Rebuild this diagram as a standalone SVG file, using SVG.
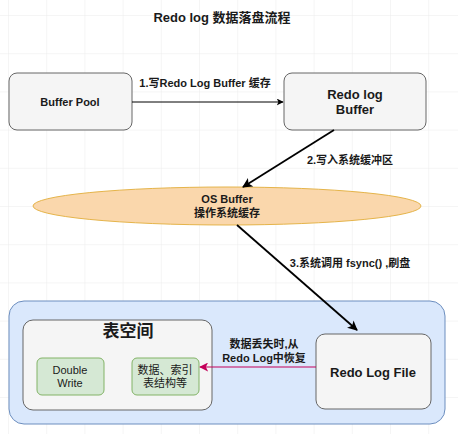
<svg xmlns="http://www.w3.org/2000/svg" width="458" height="434" viewBox="0 0 458 434">
<defs>
<pattern id="grid" x="8" y="15" width="38.2" height="38.2" patternUnits="userSpaceOnUse">
<path d="M0 0H38.2M0 0V38.2" fill="none" stroke="#ececec" stroke-width="1"/>
</pattern>
<marker id="ah" viewBox="0 0 10 10" refX="9" refY="5" markerWidth="7" markerHeight="7" markerUnits="userSpaceOnUse" orient="auto">
<path d="M0 0L10 5L0 10L2.5 5Z" fill="#000"/>
</marker>
<marker id="ahb" viewBox="0 0 10 10" refX="9" refY="5" markerWidth="5.5" markerHeight="5.5" orient="auto">
<path d="M0 0L10 5L0 10L2.5 5Z" fill="#000"/>
</marker>
<marker id="ahp" viewBox="0 0 10 10" refX="9" refY="5" markerWidth="9" markerHeight="9" markerUnits="userSpaceOnUse" orient="auto">
<path d="M0 0L10 5L0 10L2.5 5Z" fill="#c4005a"/>
</marker>
</defs>
<style>
text{font-family:"Liberation Sans","Noto Sans CJK SC",Arial,sans-serif;fill:#1a1a1a;text-anchor:middle}
.b{font-weight:bold}
.gray{fill:#f5f5f5;stroke:#666;stroke-width:1}
.green{fill:#d5e8d4;stroke:#82b366;stroke-width:1}
.lbl{font-size:11px;font-weight:bold}
</style>
<rect width="458" height="434" fill="#fff"/>
<rect width="458" height="434" fill="url(#grid)"/>
<text x="222" y="22" class="b" font-size="13">Redo log 数据落盘流程</text>

<g id="buffer-pool">
<rect x="9" y="73" width="123" height="57" rx="8" class="gray"/>
<text x="70" y="106" class="b" font-size="11">Buffer Pool</text>
</g>
<g id="redo-log-buffer">
<rect x="284" y="73" width="142" height="57" rx="8" class="gray"/>
<text x="355" y="99" class="b" font-size="13">Redo log</text>
<text x="355" y="114" class="b" font-size="13">Buffer</text>
</g>
<g id="os-buffer">
<ellipse cx="227" cy="206" rx="194" ry="19" fill="#fad7ac" stroke="#e5b44a" stroke-width="1"/>
<text x="227" y="203" class="b" font-size="11">OS Buffer</text>
<text x="227" y="217" class="b" font-size="11">操作系统缓存</text>
</g>
<g id="disk">
<rect x="9" y="301" width="436" height="123" rx="15" fill="#dae8fc" stroke="#6c8ebf" stroke-width="1"/>
</g>
<g id="tablespace">
<rect x="23" y="320" width="189" height="90" rx="10" class="gray"/>
<text x="128" y="337" class="b" font-size="17">表空间</text>
</g>
<g id="double-write">
<rect x="37" y="358" width="67" height="37" rx="5" class="green"/>
<text x="70" y="374" font-size="11">Double</text>
<text x="70" y="387" font-size="11">Write</text>
</g>
<g id="data-index">
<rect x="132" y="358" width="67" height="37" rx="5" class="green"/>
<text x="165" y="374" font-size="11">数据、索引</text>
<text x="165" y="387" font-size="11">表结构等</text>
</g>
<g id="redo-log-file">
<rect x="316" y="334" width="115" height="75" rx="9" class="gray"/>
<text x="373" y="377" class="b" font-size="13">Redo Log File</text>
</g>

<g id="connectors">
<line x1="132" y1="102" x2="283" y2="102" stroke="#000" stroke-width="1" marker-end="url(#ah)"/>
<text x="205" y="87" class="lbl">1.写Redo Log Buffer 缓存</text>
<line x1="334" y1="130" x2="243" y2="187" stroke="#000" stroke-width="1.8" marker-end="url(#ahb)"/>
<text x="350" y="164" class="lbl">2.写入系统缓冲区</text>
<line x1="237" y1="225" x2="357" y2="330" stroke="#000" stroke-width="1.8" marker-end="url(#ahb)"/>
<text x="350" y="267" class="lbl">3.系统调用 fsync() ,刷盘</text>
<line x1="316" y1="367" x2="200" y2="367" stroke="#c4005a" stroke-width="1" marker-end="url(#ahp)"/>
<text x="264" y="348" class="lbl">数据丢失时,从</text>
<text x="264" y="362" class="lbl">Redo Log中恢复</text>
</g>
</svg>
